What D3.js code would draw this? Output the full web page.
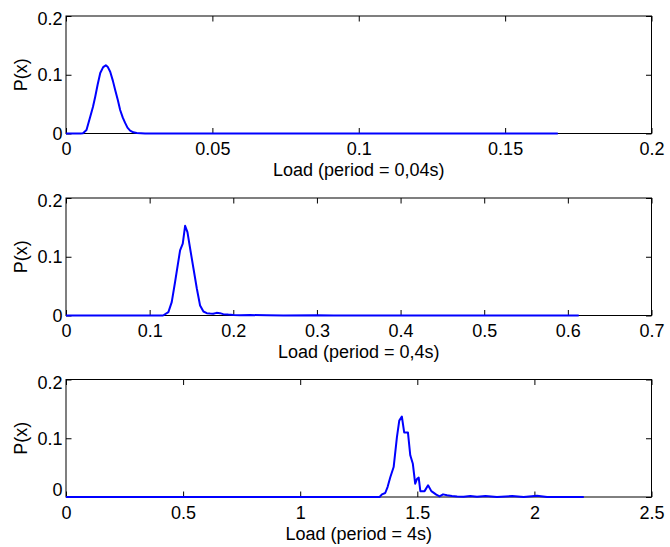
<!DOCTYPE html>
<html>
<head>
<meta charset="utf-8">
<script src="https://cdn.jsdelivr.net/npm/d3@7/dist/d3.min.js"></script>
<style>
  html, body { margin: 0; padding: 0; background: #fff; }
  svg { display: block; font-family: "Liberation Sans", Arial, Helvetica, sans-serif; }
  .tick line { stroke: #000; }
  .tick text { fill: #000; font-size: 18px; }
</style>
</head>
<body>
<svg id="chart" width="670" height="547"></svg>
<script>
// Load distributions for three sampling periods
const loadShort = [0, 0.005, 0.0058, 0.007, 0.0083, 0.0092, 0.0100, 0.0108, 0.0117, 0.0127, 0.0136,
  0.0143, 0.0151, 0.0160, 0.0168, 0.0177, 0.0185, 0.0194, 0.0202, 0.0210, 0.0219, 0.0230, 0.0242,
  0.027, 0.030, 0.168];
const probShort = [0, 0, 0.0005, 0.006, 0.029, 0.045, 0.063, 0.083, 0.103, 0.113, 0.116,
  0.113, 0.105, 0.090, 0.074, 0.057, 0.040, 0.027, 0.018, 0.010, 0.005, 0.002, 0.001,
  0.0002, 0, 0];

const loadMid = [0, 0.116, 0.1224, 0.1264, 0.1304, 0.1364, 0.1396, 0.1424, 0.1452, 0.1484, 0.1524,
  0.1564, 0.1603, 0.1643, 0.1683, 0.1723, 0.176, 0.180, 0.184, 0.188, 0.194, 0.200, 0.208, 0.22,
  0.24, 0.26, 0.30, 0.32, 0.613];
const probMid = [0, 0, 0.0057, 0.0228, 0.057, 0.111, 0.1225, 0.1527, 0.142, 0.114, 0.080,
  0.046, 0.017, 0.0068, 0.004, 0.0034, 0.0030, 0.0045, 0.0040, 0.0023, 0.0015, 0.001, 0.0006, 0.0008,
  0.0003, 0.0002, 0.0005, 0, 0];

const loadLong = [0, 1.339, 1.349, 1.363, 1.373, 1.385, 1.399, 1.413, 1.423, 1.434, 1.444, 1.460,
  1.470, 1.481, 1.491, 1.499, 1.506, 1.513, 1.531, 1.546, 1.560, 1.581, 1.595, 1.610, 1.627, 1.648,
  1.670, 1.698, 1.726, 1.755, 1.791, 1.840, 1.905, 1.954, 2.011, 2.054, 2.211];
const probLong = [0, 0, 0.0045, 0.0068, 0.017, 0.034, 0.051, 0.102, 0.130, 0.137, 0.110, 0.110,
  0.071, 0.0565, 0.0226, 0.031, 0.033, 0.010, 0.010, 0.020, 0.010, 0.004, 0.001, 0.0045, 0.003, 0.0017,
  0.001, 0.0005, 0.0017, 0.0003, 0.0017, 0, 0.0017, 0, 0.0023, 0, 0];

const xTicksShort = [0, 0.05, 0.1, 0.15, 0.2];
const xTicksMid = [0, 0.1, 0.2, 0.3, 0.4, 0.5, 0.6, 0.7];
const xTicksLong = [0, 0.5, 1, 1.5, 2, 2.5];
const yTicks = [0, 0.1, 0.2];
const xLabels = ["Load (period = 0,04s)", "Load (period = 0,4s)", "Load (period = 4s)"];
const yLabel = "P(x)";

const panels = [
  { xs: loadShort, ys: probShort, xTicks: xTicksShort, label: xLabels[0], top: 16, zeroShift: 0 },
  { xs: loadMid, ys: probMid, xTicks: xTicksMid, label: xLabels[1], top: 198, zeroShift: 0 },
  { xs: loadLong, ys: probLong, xTicks: xTicksLong, label: xLabels[2], top: 379.5, zeroShift: -8 }
];

const left = 66, right = 651.5, plotH = 117.5, tick = 5.5;
const svg = d3.select("#chart");

panels.forEach(p => {
  const x = d3.scaleLinear().domain([0, p.xTicks[p.xTicks.length - 1]]).range([left, right]);
  const y = d3.scaleLinear().domain([0, 0.2]).range([p.top + plotH, p.top]);
  const g = svg.append("g");
  const bottom = p.top + plotH;

  // bottom axis with labels, ticks pointing inward
  g.append("g").attr("transform", `translate(0,${bottom})`)
    .call(d3.axisBottom(x).tickValues(p.xTicks).tickFormat(d3.format("")).tickSize(-tick).tickPadding(9))
    .call(a => a.select(".domain").remove());
  // top axis, ticks only
  g.append("g").attr("transform", `translate(0,${p.top})`)
    .call(d3.axisTop(x).tickValues(p.xTicks).tickFormat("").tickSize(-tick))
    .call(a => a.select(".domain").remove());
  // left axis with labels
  g.append("g").attr("transform", `translate(${left},0)`)
    .call(d3.axisLeft(y).tickValues(yTicks).tickFormat(d3.format("")).tickSize(-tick).tickPadding(3.5))
    .call(a => a.select(".domain").remove())
    .call(a => a.selectAll(".tick text")
      .attr("y", d => d === 0 ? p.zeroShift : 0)
      .attr("dy", d => d === 0.2 ? "0.48em" : "0.34em"));
  // right axis, ticks only
  g.append("g").attr("transform", `translate(${right},0)`)
    .call(d3.axisRight(y).tickValues(yTicks).tickFormat("").tickSize(-tick))
    .call(a => a.select(".domain").remove());

  // frame
  g.append("rect")
    .attr("x", left).attr("y", p.top)
    .attr("width", right - left).attr("height", plotH)
    .attr("fill", "none").attr("stroke", "#000").attr("stroke-width", 1);

  // distribution curve
  const pts = p.xs.map((v, i) => [v, p.ys[i]]);
  g.append("path")
    .datum(pts)
    .attr("fill", "none")
    .attr("stroke", "#0000ff")
    .attr("stroke-width", 2)
    .attr("stroke-linejoin", "round")
    .attr("d", d3.line().x(d => x(d[0])).y(d => y(d[1])));

  // axis titles
  g.append("text")
    .attr("x", (left + right) / 2).attr("y", bottom + 42.5)
    .attr("text-anchor", "middle").attr("font-size", 18)
    .text(p.label);
  g.append("text")
    .attr("transform", `translate(26.5,${p.top + plotH / 2}) rotate(-90)`)
    .attr("text-anchor", "middle").attr("font-size", 18)
    .text(yLabel);
});
</script>
</body>
</html>
